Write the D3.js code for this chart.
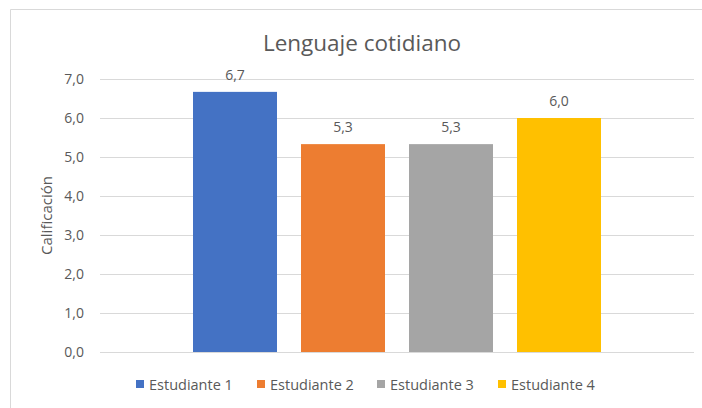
<!DOCTYPE html>
<html><head><meta charset="utf-8">
<script src="https://cdn.jsdelivr.net/npm/d3@7"></script>
<style>body{margin:0;background:#fff;}svg{display:block;font-family:"Open Sans","Noto Sans",sans-serif;}</style>
</head><body>
<svg id="c" width="702" height="408"></svg>
<script>
const title = "Lenguaje cotidiano";
const yTitle = "Calificación";
const categories = ["Lenguaje cotidiano"];
const series = ["Estudiante 1","Estudiante 2","Estudiante 3","Estudiante 4"];
const values = [6.67, 5.33, 5.33, 6.0];
const colors = ["#4472C4","#ED7D31","#A5A5A5","#FFC000"];
const yTicks = [0,1,2,3,4,5,6,7];

(function(){
const svg = d3.select("#c");
const fmt = v => d3.format(".1f")(v).replace(".", ",");

// chart border
svg.append("path").attr("d","M10.5,408 L10.5,9.5 L702,9.5").attr("fill","none").attr("stroke","#D9D9D9").attr("stroke-width",1);

const mLeft = 100, mRight = 694, mTop = 79, mBottom = 352;
const y = d3.scaleLinear().domain([0,7]).range([mBottom, mTop]);
const x0 = d3.scaleBand().domain(categories).range([mLeft, mRight]).paddingInner(0).paddingOuter(0);
const groupW = 408;
const x1 = d3.scaleBand().domain(series).range([0, groupW]).paddingInner(24/108).paddingOuter(0);

// gridlines
svg.append("g").selectAll("line").data(yTicks).join("line")
  .attr("x1", mLeft).attr("x2", mRight)
  .attr("y1", d => Math.round(y(d))+0.5).attr("y2", d => Math.round(y(d))+0.5)
  .attr("stroke","#D9D9D9").attr("stroke-width",1);

// y axis labels
const yAxis = d3.axisLeft(y).tickValues(yTicks).tickFormat(fmt).tickSize(0).tickPadding(0);
const ga = svg.append("g").attr("transform", `translate(84,0)`).call(yAxis);
ga.select(".domain").remove();
ga.selectAll("text").attr("fill","#595959").style("font-size","14px").style("font-family",'"Open Sans",sans-serif');

// bars
const gOff = x0(categories[0]) + (x0.bandwidth() - groupW)/2;
const g = svg.append("g").attr("transform", `translate(${gOff},0)`);
g.selectAll("rect").data(values).join("rect")
  .attr("x", (d,i) => x1(series[i]))
  .attr("width", x1.bandwidth())
  .attr("y", d => y(d))
  .attr("height", d => y(0) - y(d))
  .attr("fill", (d,i) => colors[i]);
g.selectAll("text").data(values).join("text")
  .attr("x", (d,i) => x1(series[i]) + x1.bandwidth()/2)
  .attr("y", d => y(d) - 12)
  .attr("text-anchor","middle").attr("fill","#595959").style("font-size","14px")
  .text(d => fmt(d));

// title
svg.append("text").attr("x", 362).attr("y", 51).attr("text-anchor","middle")
  .attr("fill","#595959").style("font-size","22.5px").text(title);

// y title
svg.append("text").attr("transform", `translate(52,${(mTop+mBottom)/2}) rotate(-90)`)
  .attr("text-anchor","middle").attr("fill","#595959").style("font-size","15px").text(yTitle);

// legend
const legX = [136, 257, 377, 498];
const lg = svg.append("g").selectAll("g").data(series).join("g")
  .attr("transform", (d,i) => `translate(${legX[i]},0)`);
lg.append("rect").attr("x",0).attr("y",380).attr("width",8).attr("height",8).attr("fill",(d,i)=>colors[i]);
lg.append("text").attr("x",13).attr("y",389.5).attr("fill","#595959").style("font-size","14.5px").text(d=>d);
})();
</script>
</body></html>
